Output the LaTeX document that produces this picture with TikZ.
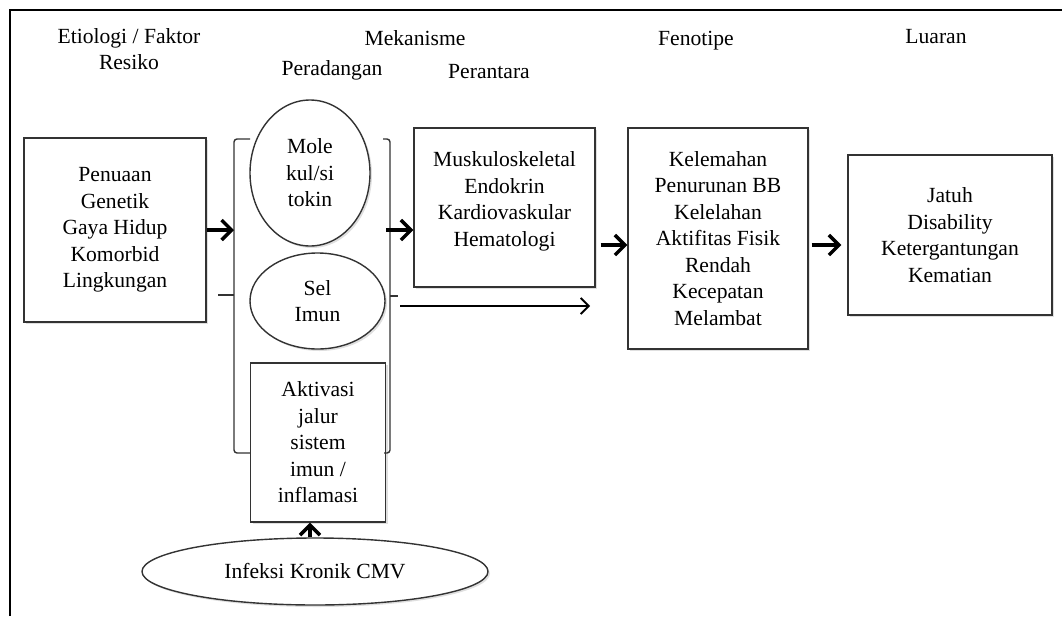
\documentclass[tikz,border=0pt]{standalone}
\usepackage{fontspec}
\setmainfont{Liberation Serif}
\usetikzlibrary{arrows.meta,shapes.geometric,shadows}
\begin{document}
\begin{tikzpicture}[x=1pt,y=-1pt,
  every node/.style={font=\fontsize{21.6}{26.5}\selectfont, align=center, inner sep=0pt},
  kotak/.style={draw=black!80, line width=1.4pt, fill=white, rectangle,
    drop shadow={shadow xshift=2pt, shadow yshift=-2pt, opacity=0.25}},
  bulat/.style={draw=black!80, line width=1.4pt, fill=white, ellipse,
    drop shadow={shadow xshift=2pt, shadow yshift=-2pt, opacity=0.25}},
  panah/.style={line width=3.4pt, -{Straight Barb[length=10pt,width=20pt]}},
  panahtipis/.style={line width=1.8pt, -{Straight Barb[length=8pt,width=16pt]}}]
  \useasboundingbox (0,0) rectangle (1062,616);
  \draw[line width=1.6pt] (10,616) -- (10,10) -- (1062,10);
  % judul kolom
  \node (etio) at (129,49) {Etiologi / Faktor\\Resiko};
  \node (mek) at (415,38) {Mekanisme};
  \node (rad) at (332,70) {Peradangan};
  \node (antara) at (489,72) {Perantara};
  \node (feno) at (696,41) {Fenotipe};
  \node (luar) at (936,37) {Luaran};
  % kotak dan elips
  \node[kotak, minimum width=182pt, minimum height=184pt] (faktor) at (115,230)
    {Penuaan\\Genetik\\Gaya Hidup\\Komorbid\\Lingkungan};
  \node[bulat, minimum width=120pt, minimum height=146pt] (molekul) at (310,173)
    {Mole\\kul/si\\tokin};
  \node[bulat, minimum width=135pt, minimum height=96pt] (sel) at (317.5,301)
    {Sel\\Imun};
  \node[kotak, minimum width=135pt, minimum height=159pt] (aktivasi) at (318,442.5)
    {Aktivasi\\jalur\\sistem\\imun /\\inflamasi};
  \node[bulat, minimum width=346pt, minimum height=67pt] (cmv) at (315,571.5)
    {Infeksi Kronik CMV};
  \node[kotak, minimum width=181pt, minimum height=159pt] (musk) at (504.5,207.5)
    {Muskuloskeletal\\Endokrin\\Kardiovaskular\\Hematologi\\[-10pt]};
  \node[kotak, minimum width=180pt, minimum height=221pt] (kel) at (718,238.5)
    {Kelemahan\\Penurunan BB\\Kelelahan\\Aktifitas Fisik\\Rendah\\Kecepatan\\Melambat};
  \node[kotak, minimum width=204pt, minimum height=160pt] (luaran) at (950,235)
    {Jatuh\\Disability\\Ketergantungan\\Kematian};
  % kurung
  \draw[line width=1.4pt, black!80, rounded corners=3pt]
    (250,139) -- (234,139) -- (234,453) -- (250,453);
  \draw[line width=1.4pt, black!80] (234,295) -- (218,295);
  \draw[line width=1.4pt, black!80, rounded corners=3pt]
    (383,139) -- (390,139) -- (390,453) -- (384,453);
  \draw[line width=1.4pt, black!80] (390,296) -- (398,296);
  \coordinate (lbr) at (234,230);
  \coordinate (rbr) at (386,230);
  \coordinate (baris) at (0,245);
  \coordinate (lmulai) at (400,306);
  \coordinate (lakhir) at (590,306);
  % panah
  \draw[panah] (faktor.east) -- (lbr);
  \draw[panah] (rbr) -- (rbr -| musk.west);
  \draw[panah, shorten <=5pt] (musk.east |- baris) -- (kel.west |- baris);
  \draw[panah, shorten <=3pt, shorten >=6pt] (kel.east |- baris) -- (luaran.west |- baris);
  \draw[panahtipis] (lmulai) -- (lakhir);
  \draw[panah] (cmv.north -| 310,0) -- (aktivasi.south -| 310,0);
\end{tikzpicture}
\end{document}
